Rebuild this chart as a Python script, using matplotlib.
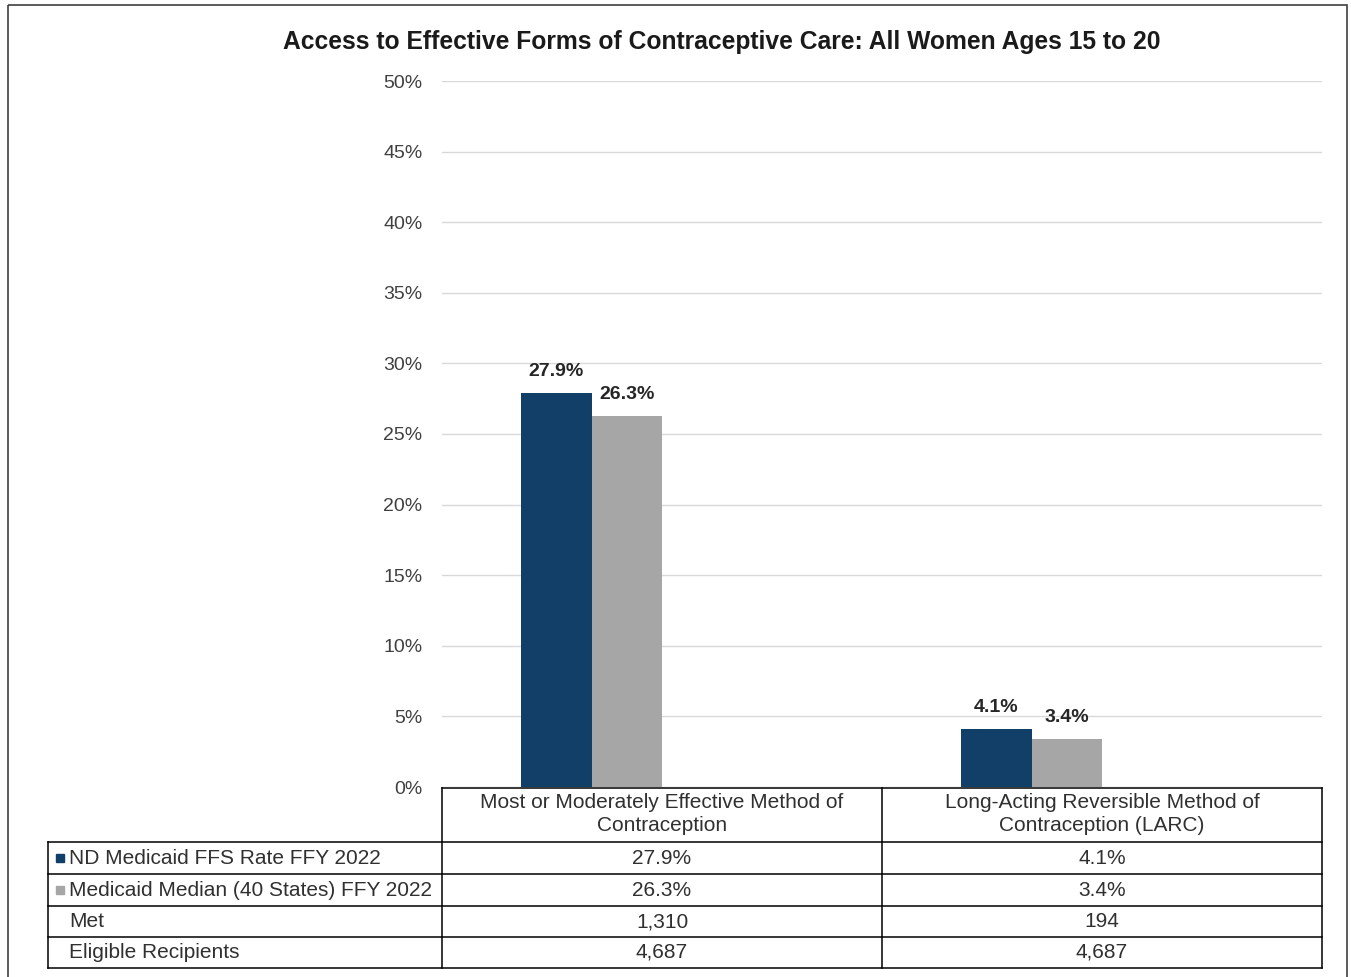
import matplotlib
matplotlib.use("Agg")
import matplotlib.pyplot as plt
from matplotlib.patches import Rectangle

plt.rcParams['font.family'] = ['Liberation Sans', 'DejaVu Sans']

title = "Access to Effective Forms of Contraceptive Care: All Women Ages 15 to 20"
categories = ["Most or Moderately Effective Method of\nContraception",
              "Long-Acting Reversible Method of\nContraception (LARC)"]
series_names = ["ND Medicaid FFS Rate FFY 2022", "Medicaid Median (40 States) FFY 2022"]
nd_rate = [27.9, 4.1]
median_rate = [26.3, 3.4]
met = ["1,310", "194"]
eligible = ["4,687", "4,687"]
yticks = [0, 5, 10, 15, 20, 25, 30, 35, 40, 45, 50]

c_nd = "#123f68"
c_med = "#a6a6a6"

W, H = 1351, 977
fig = plt.figure(figsize=(W / 100, H / 100), dpi=100)

# overlay in pixel coords
ov = fig.add_axes([0, 0, 1, 1])
ov.set_xlim(0, W)
ov.set_ylim(H, 0)
ov.axis('off')
ov.add_patch(Rectangle((8, 5), 1339, 990, fill=False, edgecolor='#404040', lw=1.2))

# main plot axes
x0, x1 = 442, 1322
y0, y1 = 787, 81
ax = fig.add_axes([x0 / W, 1 - y0 / H, (x1 - x0) / W, (y0 - y1) / H])
ax.set_xlim(-0.5, 1.5)
ax.set_ylim(0, 50)
bw = 0.16
xs = list(range(len(categories)))
b1 = ax.bar([x - 2 * bw for x in xs], nd_rate, width=bw, align='edge', color=c_nd, zorder=3)
b2 = ax.bar([x - bw for x in xs], median_rate, width=bw, align='edge', color=c_med, zorder=3)
for bars, vals in ((b1, nd_rate), (b2, median_rate)):
    for b, v in zip(bars, vals):
        ax.annotate(f"{v:.1f}%", (b.get_x() + b.get_width() / 2, v), xytext=(0, 15.5),
                    textcoords='offset points', ha='center', va='center',
                    fontsize=14, fontweight='bold', color='#262626')
ax.set_yticks(yticks)
ax.set_yticklabels([f"{t}%" for t in yticks], fontsize=14, color='#404040')
ax.tick_params(axis='y', length=0, pad=14)
ax.set_xticks([])
ax.grid(axis='y', color='#d9d9d9', lw=1, zorder=0)
for s in ax.spines.values():
    s.set_visible(False)

ov.text((285 + 1158) / 2, 42, title, ha='center', va='center',
        fontsize=17.7, fontweight='bold', color='#1a1a1a')

# table
lw = 1.1
col_x = [48, 442, 882, 1322]
row_y = [788, 842, 874, 906, 937, 968]
ov.plot([442, 1322], [788, 788], color='k', lw=lw)
for cx in col_x[1:]:
    ov.plot([cx, cx], [788, 968], color='k', lw=lw)
ov.plot([48, 48], [842, 968], color='k', lw=lw)
for ry in row_y[1:]:
    ov.plot([48, 1322], [ry, ry], color='k', lw=lw)

tcol = '#303030'
fs = 15
centers = [(col_x[1] + col_x[2]) / 2, (col_x[2] + col_x[3]) / 2]
for cx, cat in zip(centers, categories):
    ov.text(cx, (788 + 842) / 2 - 1, cat, ha='center', va='center', fontsize=fs, color=tcol, linespacing=1.3)

row_labels = series_names + ["Met", "Eligible Recipients"]
row_vals = [[f"{v:.1f}%" for v in nd_rate], [f"{v:.1f}%" for v in median_rate], met, eligible]
marker_cols = [c_nd, c_med, None, None]
for i, (lab, vals, mc) in enumerate(zip(row_labels, row_vals, marker_cols)):
    yc = (row_y[i + 1] + row_y[i + 2]) / 2
    if mc:
        ov.add_patch(Rectangle((56, yc - 4), 8, 8, color=mc))
    ov.text(69, yc, lab, ha='left', va='center', fontsize=fs, color=tcol)
    for cx, v in zip(centers, vals):
        ov.text(cx, yc, v, ha='center', va='center', fontsize=fs, color=tcol)

fig.savefig("out.png", dpi=100)
